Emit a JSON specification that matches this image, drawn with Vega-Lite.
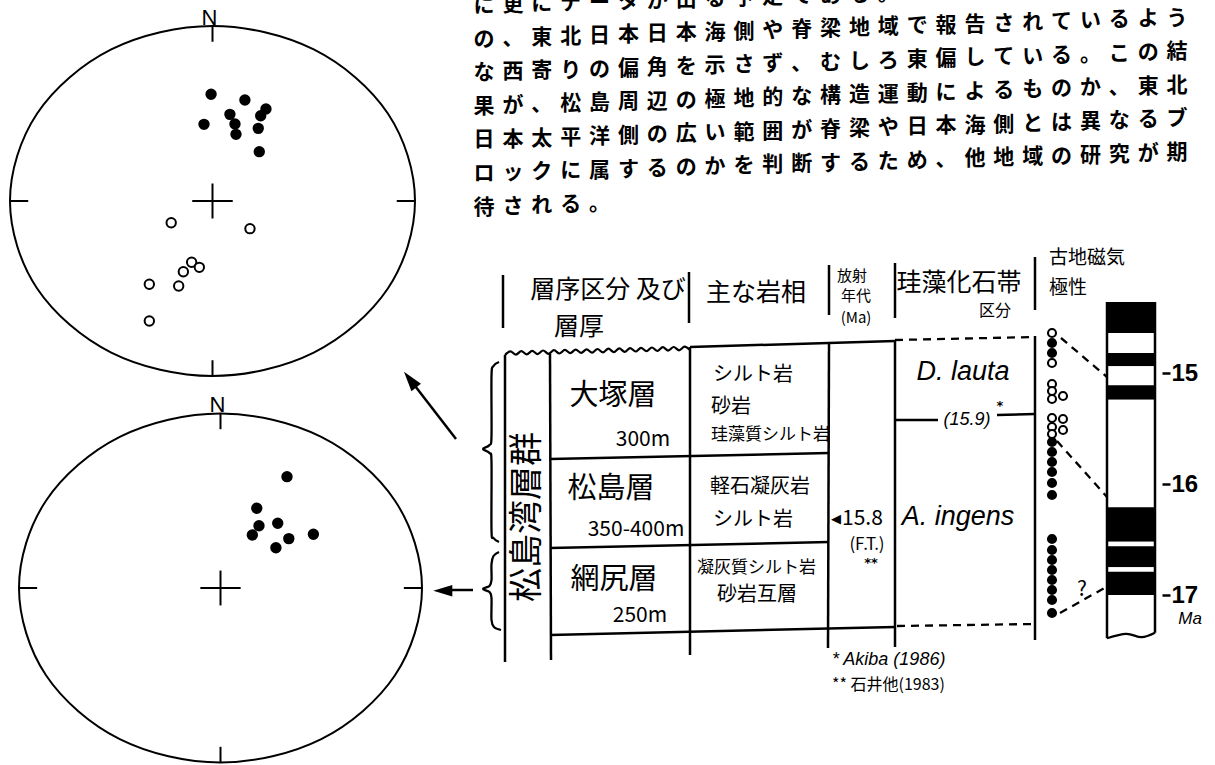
{
"$schema": "https://vega.github.io/schema/vega-lite/v6.json",
"width": 1215,
"height": 765,
"autosize": {"type": "none"},
"padding": 0,
"background": "white",
"config": {"view": {"stroke": null}},
"datasets": {
"circle": [
{"i":0,"x":1,"y":0},{"i":1,"x":0.866,"y":0.5},{"i":2,"x":0.5,"y":0.866},{"i":3,"x":0,"y":1},{"i":4,"x":-0.5,"y":0.866},{"i":5,"x":-0.866,"y":0.5},{"i":6,"x":-1,"y":0},{"i":7,"x":-0.866,"y":-0.5},{"i":8,"x":-0.5,"y":-0.866},{"i":9,"x":0,"y":-1},{"i":10,"x":0.5,"y":-0.866},{"i":11,"x":0.866,"y":-0.5}
],
"netFrame": [
{"x":0,"y":1,"x2":0,"y2":0.91},{"x":0,"y":-1,"x2":0,"y2":-0.91},{"x":-1,"y":0,"x2":-0.91,"y2":0},{"x":1,"y":0,"x2":0.91,"y2":0},{"x":-0.1,"y":0,"x2":0.1,"y2":0},{"x":0,"y":-0.1,"x2":0,"y2":0.1}
],
"north": [{"x":0,"y":1,"t":"N"}],
"siteA": [
{"x":-0.007,"y":0.610,"pol":"N"},{"x":0.160,"y":0.577,"pol":"N"},{"x":0.264,"y":0.526,"pol":"N"},{"x":0.086,"y":0.495,"pol":"N"},{"x":0.238,"y":0.487,"pol":"N"},{"x":-0.042,"y":0.438,"pol":"N"},{"x":0.111,"y":0.440,"pol":"N"},{"x":0.226,"y":0.415,"pol":"N"},{"x":0.116,"y":0.381,"pol":"N"},{"x":0.231,"y":0.282,"pol":"N"},
{"x":-0.204,"y":-0.124,"pol":"R"},{"x":0.185,"y":-0.158,"pol":"R"},{"x":-0.103,"y":-0.350,"pol":"R"},{"x":-0.065,"y":-0.379,"pol":"R"},{"x":-0.144,"y":-0.404,"pol":"R"},{"x":-0.312,"y":-0.476,"pol":"R"},{"x":-0.167,"y":-0.486,"pol":"R"},{"x":-0.312,"y":-0.686,"pol":"R"}
],
"siteB": [
{"x":0.330,"y":0.638,"pol":"N"},{"x":0.180,"y":0.457,"pol":"N"},{"x":0.191,"y":0.357,"pol":"N"},{"x":0.284,"y":0.371,"pol":"N"},{"x":0.158,"y":0.304,"pol":"N"},{"x":0.339,"y":0.283,"pol":"N"},{"x":0.461,"y":0.308,"pol":"N"},{"x":0.275,"y":0.231,"pol":"N"}
],
"para": [
{"l":1,"c":1,"t":"に"},{"l":1,"c":2,"t":"更"},{"l":1,"c":3,"t":"に"},{"l":1,"c":4,"t":"デ"},{"l":1,"c":5,"t":"ー"},{"l":1,"c":6,"t":"タ"},{"l":1,"c":7,"t":"が"},{"l":1,"c":8,"t":"出"},{"l":1,"c":9,"t":"る"},{"l":1,"c":10,"t":"予"},{"l":1,"c":11,"t":"定"},{"l":1,"c":12,"t":"で"},{"l":1,"c":13,"t":"あ"},{"l":1,"c":14,"t":"る"},{"l":1,"c":15,"t":"。"},
{"l":2,"c":1,"t":"の"},{"l":2,"c":2,"t":"、"},{"l":2,"c":3,"t":"東"},{"l":2,"c":4,"t":"北"},{"l":2,"c":5,"t":"日"},{"l":2,"c":6,"t":"本"},{"l":2,"c":7,"t":"日"},{"l":2,"c":8,"t":"本"},{"l":2,"c":9,"t":"海"},{"l":2,"c":10,"t":"側"},{"l":2,"c":11,"t":"や"},{"l":2,"c":12,"t":"脊"},{"l":2,"c":13,"t":"梁"},{"l":2,"c":14,"t":"地"},{"l":2,"c":15,"t":"域"},{"l":2,"c":16,"t":"で"},{"l":2,"c":17,"t":"報"},{"l":2,"c":18,"t":"告"},{"l":2,"c":19,"t":"さ"},{"l":2,"c":20,"t":"れ"},{"l":2,"c":21,"t":"て"},{"l":2,"c":22,"t":"い"},{"l":2,"c":23,"t":"る"},{"l":2,"c":24,"t":"よ"},{"l":2,"c":25,"t":"う"},
{"l":3,"c":1,"t":"な"},{"l":3,"c":2,"t":"西"},{"l":3,"c":3,"t":"寄"},{"l":3,"c":4,"t":"り"},{"l":3,"c":5,"t":"の"},{"l":3,"c":6,"t":"偏"},{"l":3,"c":7,"t":"角"},{"l":3,"c":8,"t":"を"},{"l":3,"c":9,"t":"示"},{"l":3,"c":10,"t":"さ"},{"l":3,"c":11,"t":"ず"},{"l":3,"c":12,"t":"、"},{"l":3,"c":13,"t":"む"},{"l":3,"c":14,"t":"し"},{"l":3,"c":15,"t":"ろ"},{"l":3,"c":16,"t":"東"},{"l":3,"c":17,"t":"偏"},{"l":3,"c":18,"t":"し"},{"l":3,"c":19,"t":"て"},{"l":3,"c":20,"t":"い"},{"l":3,"c":21,"t":"る"},{"l":3,"c":22,"t":"。"},{"l":3,"c":23,"t":"こ"},{"l":3,"c":24,"t":"の"},{"l":3,"c":25,"t":"結"},
{"l":4,"c":1,"t":"果"},{"l":4,"c":2,"t":"が"},{"l":4,"c":3,"t":"、"},{"l":4,"c":4,"t":"松"},{"l":4,"c":5,"t":"島"},{"l":4,"c":6,"t":"周"},{"l":4,"c":7,"t":"辺"},{"l":4,"c":8,"t":"の"},{"l":4,"c":9,"t":"極"},{"l":4,"c":10,"t":"地"},{"l":4,"c":11,"t":"的"},{"l":4,"c":12,"t":"な"},{"l":4,"c":13,"t":"構"},{"l":4,"c":14,"t":"造"},{"l":4,"c":15,"t":"運"},{"l":4,"c":16,"t":"動"},{"l":4,"c":17,"t":"に"},{"l":4,"c":18,"t":"よ"},{"l":4,"c":19,"t":"る"},{"l":4,"c":20,"t":"も"},{"l":4,"c":21,"t":"の"},{"l":4,"c":22,"t":"か"},{"l":4,"c":23,"t":"、"},{"l":4,"c":24,"t":"東"},{"l":4,"c":25,"t":"北"},
{"l":5,"c":1,"t":"日"},{"l":5,"c":2,"t":"本"},{"l":5,"c":3,"t":"太"},{"l":5,"c":4,"t":"平"},{"l":5,"c":5,"t":"洋"},{"l":5,"c":6,"t":"側"},{"l":5,"c":7,"t":"の"},{"l":5,"c":8,"t":"広"},{"l":5,"c":9,"t":"い"},{"l":5,"c":10,"t":"範"},{"l":5,"c":11,"t":"囲"},{"l":5,"c":12,"t":"が"},{"l":5,"c":13,"t":"脊"},{"l":5,"c":14,"t":"梁"},{"l":5,"c":15,"t":"や"},{"l":5,"c":16,"t":"日"},{"l":5,"c":17,"t":"本"},{"l":5,"c":18,"t":"海"},{"l":5,"c":19,"t":"側"},{"l":5,"c":20,"t":"と"},{"l":5,"c":21,"t":"は"},{"l":5,"c":22,"t":"異"},{"l":5,"c":23,"t":"な"},{"l":5,"c":24,"t":"る"},{"l":5,"c":25,"t":"ブ"},
{"l":6,"c":1,"t":"ロ"},{"l":6,"c":2,"t":"ッ"},{"l":6,"c":3,"t":"ク"},{"l":6,"c":4,"t":"に"},{"l":6,"c":5,"t":"属"},{"l":6,"c":6,"t":"す"},{"l":6,"c":7,"t":"る"},{"l":6,"c":8,"t":"の"},{"l":6,"c":9,"t":"か"},{"l":6,"c":10,"t":"を"},{"l":6,"c":11,"t":"判"},{"l":6,"c":12,"t":"断"},{"l":6,"c":13,"t":"す"},{"l":6,"c":14,"t":"る"},{"l":6,"c":15,"t":"た"},{"l":6,"c":16,"t":"め"},{"l":6,"c":17,"t":"、"},{"l":6,"c":18,"t":"他"},{"l":6,"c":19,"t":"地"},{"l":6,"c":20,"t":"域"},{"l":6,"c":21,"t":"の"},{"l":6,"c":22,"t":"研"},{"l":6,"c":23,"t":"究"},{"l":6,"c":24,"t":"が"},{"l":6,"c":25,"t":"期"},
{"l":7,"c":1,"t":"待"},{"l":7,"c":2,"t":"さ"},{"l":7,"c":3,"t":"れ"},{"l":7,"c":4,"t":"る"},{"l":7,"c":5,"t":"。"}
],
"tSolid": [
{"x":-0.2,"y":-6.5,"x2":-0.2,"y2":-1.2},
{"x":18.4,"y":-6.8,"x2":18.4,"y2":-1.7},
{"x":32.4,"y":-7.5,"x2":32.4,"y2":-2.5},
{"x":39.0,"y":-7.7,"x2":39.0,"y2":-2.2},
{"x":53.0,"y":-8.3,"x2":53.0,"y2":-3.0},
{"x":0,"y":1.5,"x2":0,"y2":32.2},
{"x":4.5,"y":1.35,"x2":4.6,"y2":32.0},
{"x":18.5,"y":0.7,"x2":18.5,"y2":31.5},
{"x":32.4,"y":0.3,"x2":32.3,"y2":30.8},
{"x":39.0,"y":0.1,"x2":39.0,"y2":30.7},
{"x":53.0,"y":-0.4,"x2":53.0,"y2":30.0},
{"x":18.5,"y":0.7,"x2":39.0,"y2":0.1},
{"x":4.5,"y":11.9,"x2":32.4,"y2":11.3},
{"x":4.5,"y":20.8,"x2":32.4,"y2":20.2},
{"x":4.5,"y":29.5,"x2":39.0,"y2":28.7},
{"x":39.0,"y":8.0,"x2":43.3,"y2":8.0},
{"x":49.2,"y":7.5,"x2":53.0,"y2":7.4}
],
"tDash": [
{"x":39.0,"y":0.0,"x2":53.0,"y2":-0.3},
{"x":39.2,"y":28.6,"x2":53.0,"y2":28.4},
{"x":55.6,"y":-0.2,"x2":60.2,"y2":3.7},
{"x":55.2,"y":10.1,"x2":60.2,"y2":15.7},
{"x":55.5,"y":27.3,"x2":60.3,"y2":24.6}
],
"tWave": [
{"x":0,"y":1.5},{"x":0.54,"y":1.14},{"x":1.09,"y":1.47},{"x":1.63,"y":1.11},{"x":2.18,"y":1.44},{"x":2.72,"y":1.08},{"x":3.26,"y":1.41},{"x":3.81,"y":1.05},{"x":4.35,"y":1.38},{"x":4.9,"y":1.02},{"x":5.44,"y":1.35},{"x":5.99,"y":0.99},{"x":6.53,"y":1.32},{"x":7.07,"y":0.96},{"x":7.62,"y":1.29},{"x":8.16,"y":0.93},{"x":8.71,"y":1.27},{"x":9.25,"y":0.9},{"x":9.79,"y":1.24},{"x":10.34,"y":0.87},{"x":10.88,"y":1.21},{"x":11.43,"y":0.84},{"x":11.97,"y":1.18},{"x":12.51,"y":0.81},{"x":13.06,"y":1.15},{"x":13.6,"y":0.78},{"x":14.15,"y":1.12},{"x":14.69,"y":0.75},{"x":15.24,"y":1.09},{"x":15.78,"y":0.72},{"x":16.32,"y":1.06},{"x":16.87,"y":0.7},{"x":17.41,"y":1.03},{"x":17.96,"y":0.67},{"x":18.5,"y":1.0}
],
"tBrace": [
{"b":"u","i":0,"x":-0.6,"y":2.2},{"b":"u","i":1,"x":-1.15,"y":2.6},{"b":"u","i":2,"x":-1.35,"y":3.6},{"b":"u","i":3,"x":-1.35,"y":9.6},{"b":"u","i":4,"x":-1.55,"y":10.5},{"b":"u","i":5,"x":-2.2,"y":10.9},{"b":"u","i":6,"x":-1.55,"y":11.3},{"b":"u","i":7,"x":-1.35,"y":12.2},{"b":"u","i":8,"x":-1.35,"y":19.0},{"b":"u","i":9,"x":-1.15,"y":19.8},{"b":"u","i":10,"x":-0.6,"y":20.2},
{"b":"l","i":0,"x":-0.6,"y":21.2},{"b":"l","i":1,"x":-1.15,"y":21.6},{"b":"l","i":2,"x":-1.35,"y":22.4},{"b":"l","i":3,"x":-1.35,"y":24.0},{"b":"l","i":4,"x":-1.55,"y":24.6},{"b":"l","i":5,"x":-2.2,"y":24.9},{"b":"l","i":6,"x":-1.55,"y":25.2},{"b":"l","i":7,"x":-1.35,"y":25.8},{"b":"l","i":8,"x":-1.35,"y":28.0},{"b":"l","i":9,"x":-1.1,"y":28.7},{"b":"l","i":10,"x":-0.4,"y":29.0}
],
"tArrow": [
{"x":-4.9,"y":9.9,"x2":-9.3,"y2":4.2},
{"x":-3.2,"y":25.0,"x2":-6.0,"y2":25.0}
],
"tHead": [
{"a":"up","x":-9.49,"y":3.96},
{"a":"left","x":-6.22,"y":25.07}
],
"tSample": [
{"x":54.7,"y":-0.7,"pol":"R"},{"x":54.7,"y":0.3,"pol":"N"},{"x":54.7,"y":1.3,"pol":"N"},{"x":54.7,"y":2.3,"pol":"R"},
{"x":54.7,"y":4.4,"pol":"R"},{"x":54.7,"y":5.1,"pol":"R"},{"x":55.8,"y":5.6,"pol":"R"},{"x":54.7,"y":5.9,"pol":"R"},
{"x":54.7,"y":7.8,"pol":"R"},{"x":55.8,"y":7.9,"pol":"R"},{"x":54.7,"y":8.7,"pol":"R"},{"x":55.8,"y":9.0,"pol":"R"},{"x":54.7,"y":9.4,"pol":"R"},
{"x":54.7,"y":10.2,"pol":"N"},{"x":54.7,"y":11.2,"pol":"N"},{"x":54.7,"y":12.2,"pol":"N"},{"x":54.7,"y":13.2,"pol":"N"},{"x":54.7,"y":14.3,"pol":"N"},{"x":54.7,"y":15.5,"pol":"N"},
{"x":54.7,"y":19.9,"pol":"N"},{"x":54.7,"y":21.0,"pol":"N"},{"x":54.7,"y":22.0,"pol":"N"},{"x":54.7,"y":23.0,"pol":"N"},{"x":54.7,"y":24.0,"pol":"N"},{"x":54.7,"y":25.0,"pol":"N"},{"x":54.7,"y":26.0,"pol":"N"},{"x":54.7,"y":27.3,"pol":"N"}
],
"tText": [
{"t":"層序区分 及び","x":10.3,"y":-5.0,"k":"head"},
{"t":"層厚","x":7.4,"y":-1.3,"k":"head"},
{"t":"主な岩相","x":25.1,"y":-4.7,"k":"head"},
{"t":"珪藻化石帯","x":45.4,"y":-5.7,"k":"head"},
{"t":"放射","x":34.7,"y":-6.4,"k":"headS"},
{"t":"年代","x":35.1,"y":-4.4,"k":"headS"},
{"t":"(Ma)","x":35.1,"y":-2.2,"k":"headS"},
{"t":"区分","x":49.0,"y":-2.9,"k":"headS2"},
{"t":"古地磁気","x":58.2,"y":-8.2,"k":"headM"},
{"t":"極性","x":56.3,"y":-5.2,"k":"headM"},
{"t":"大塚層","x":10.8,"y":5.6,"k":"unit"},
{"t":"松島層","x":10.6,"y":14.9,"k":"unit"},
{"t":"網尻層","x":10.9,"y":24.0,"k":"unit"},
{"t":"300m","x":13.8,"y":10.0,"k":"thick"},
{"t":"350-400m","x":13.1,"y":19.0,"k":"thick"},
{"t":"250m","x":13.5,"y":27.6,"k":"thick"},
{"t":"?","x":57.7,"y":25.0,"k":"thick"},
{"t":"(F.T.)","x":36.2,"y":20.5,"k":"ref"},
{"t":"◀","x":33.1,"y":17.9,"k":"sym"},
{"t":"**","x":36.6,"y":22.3,"k":"sym"},
{"t":"*","x":49.5,"y":6.6,"k":"sym"},
{"t":"シルト岩","x":20.8,"y":3.5,"k":"lith"},
{"t":"砂岩","x":20.6,"y":6.7,"k":"lith"},
{"t":"軽石凝灰岩","x":20.5,"y":14.7,"k":"lith"},
{"t":"シルト岩","x":20.8,"y":18.0,"k":"lith"},
{"t":"砂岩互層","x":21.2,"y":25.5,"k":"lith"},
{"t":"珪藻質シルト岩","x":20.6,"y":9.5,"k":"lithS"},
{"t":"凝灰質シルト岩","x":19.2,"y":22.8,"k":"lithS"},
{"t":"** 石井他(1983)","x":32.7,"y":34.5,"k":"foot"},
{"t":"15.8","x":33.7,"y":17.9,"k":"age"},
{"t":"D. lauta","x":45.8,"y":3.2,"k":"zone"},
{"t":"A. ingens","x":45.3,"y":17.7,"k":"zone"},
{"t":"(15.9)","x":46.2,"y":8.0,"k":"date"},
{"t":"* Akiba (1986)","x":32.7,"y":32.0,"k":"note"},
{"t":"松島湾層群","x":2.3,"y":17.7,"k":"group"}
],
"chrons": [
{"x":0,"x2":1,"y":14.36,"y2":14.64,"pol":"N"},
{"x":0,"x2":1,"y":14.64,"y2":14.82,"pol":"R"},
{"x":0,"x2":1,"y":14.82,"y2":14.94,"pol":"N"},
{"x":0,"x2":1,"y":14.94,"y2":15.11,"pol":"R"},
{"x":0,"x2":1,"y":15.11,"y2":15.24,"pol":"N"},
{"x":0,"x2":1,"y":15.24,"y2":16.21,"pol":"R"},
{"x":0,"x2":1,"y":16.21,"y2":16.52,"pol":"N"},
{"x":0,"x2":1,"y":16.52,"y2":16.56,"pol":"R"},
{"x":0,"x2":1,"y":16.56,"y2":16.75,"pol":"N"},
{"x":0,"x2":1,"y":16.75,"y2":16.79,"pol":"R"},
{"x":0,"x2":1,"y":16.79,"y2":17.0,"pol":"N"},
{"x":0,"x2":1,"y":17.0,"y2":17.35,"pol":"R"}
],
"pEdge": [{"x":0,"y":14.36,"y2":17.39},{"x":1,"y":14.36,"y2":17.34}],
"pBottom": [{"i":0,"x":0,"y":17.39},{"i":1,"x":0.4,"y":17.35},{"i":2,"x":0.72,"y":17.38},{"i":3,"x":1,"y":17.34}],
"pLabel": [{"x":1.73,"y":17.22,"t":"Ma"}]
},
"layer": [
{
"encoding": {
"x": {"field":"x","type":"quantitative","scale":{"domain":[-1.04938,4.95062],"nice":false,"zero":false},"axis":null},
"y": {"field":"y","type":"quantitative","scale":{"domain":[-3.22286,1.14857],"nice":false,"zero":false},"axis":null}
},
"layer": [
{"data":{"name":"circle"},"mark":{"type":"line","interpolate":"cardinal-closed","color":"black","strokeWidth":2},"encoding":{"order":{"field":"i","type":"quantitative"}}},
{"data":{"name":"netFrame"},"mark":{"type":"rule","color":"black","strokeWidth":2},"encoding":{"x2":{"field":"x2"},"y2":{"field":"y2"}}},
{"data":{"name":"north"},"mark":{"type":"text","font":"Liberation Sans","fontSize":22,"align":"center","baseline":"alphabetic","dx":-3,"dy":-1,"color":"black"},"encoding":{"text":{"field":"t"}}},
{"data":{"name":"siteA"},"mark":{"type":"point","shape":"circle","filled":true,"size":88,"stroke":"black","strokeWidth":2,"opacity":1},"encoding":{"fill":{"field":"pol","type":"nominal","scale":{"domain":["N","R"],"range":["black","white"]},"legend":null}}}
]
},
{
"encoding": {
"x": {"field":"x","type":"quantitative","scale":{"domain":[-1.09429,4.93548],"nice":false,"zero":false},"axis":null},
"y": {"field":"y","type":"quantitative","scale":{"domain":[-1.01433,3.36963],"nice":false,"zero":false},"axis":null}
},
"layer": [
{"data":{"name":"circle"},"mark":{"type":"line","interpolate":"cardinal-closed","color":"black","strokeWidth":2},"encoding":{"order":{"field":"i","type":"quantitative"}}},
{"data":{"name":"netFrame"},"mark":{"type":"rule","color":"black","strokeWidth":2},"encoding":{"x2":{"field":"x2"},"y2":{"field":"y2"}}},
{"data":{"name":"north"},"mark":{"type":"text","font":"Liberation Sans","fontSize":22,"align":"center","baseline":"alphabetic","dx":-3,"dy":-1,"color":"black"},"encoding":{"text":{"field":"t"}}},
{"data":{"name":"siteB"},"mark":{"type":"point","shape":"circle","filled":true,"size":88,"stroke":"black","strokeWidth":2,"opacity":1},"encoding":{"fill":{"field":"pol","type":"nominal","scale":{"domain":["N","R"],"range":["black","white"]},"legend":null}}}
]
},
{
"data": {"name":"para"},
"mark": {"type":"text","font":"Noto Sans CJK JP","fontWeight":"bold","fontSize":21,"align":"center","baseline":"middle","color":"black"},
"encoding": {
"x": {"field":"c","type":"quantitative","scale":{"domain":[-15.762,26.316],"nice":false,"zero":false},"axis":null},
"y": {"field":"l","type":"ordinal","scale":{"type":"point","domain":[1,2,3,4,5,6,7],"range":[6,207.6],"padding":0},"axis":null},
"yOffset": {"field":"c","type":"quantitative","scale":{"domain":[1,25],"range":[0,-21]}},
"text": {"field":"t"}
}
},
{
"encoding": {
"x": {"field":"x","type":"quantitative","scale":{"domain":[-50.5,71],"nice":false,"zero":false},"axis":null},
"y": {"field":"y","type":"quantitative","scale":{"domain":[-34,42.5],"reverse":true,"nice":false,"zero":false},"axis":null}
},
"layer": [
{"data":{"name":"tSolid"},"mark":{"type":"rule","color":"black","strokeWidth":2.5},"encoding":{"x2":{"field":"x2"},"y2":{"field":"y2"}}},
{"data":{"name":"tDash"},"mark":{"type":"rule","color":"black","strokeWidth":2.3,"strokeDash":[8,6]},"encoding":{"x2":{"field":"x2"},"y2":{"field":"y2"}}},
{"data":{"name":"tWave"},"mark":{"type":"line","interpolate":"monotone","color":"black","strokeWidth":2.2},"encoding":{}},
{"data":{"name":"tBrace"},"mark":{"type":"line","interpolate":"cardinal","color":"black","strokeWidth":2.3},"encoding":{"order":{"field":"i","type":"quantitative"},"detail":{"field":"b"}}},
{"data":{"name":"tArrow"},"mark":{"type":"rule","color":"black","strokeWidth":2.5},"encoding":{"x2":{"field":"x2"},"y2":{"field":"y2"}}},
{"data":{"name":"tHead"},"transform":[{"filter":{"field":"a","equal":"up"}}],"mark":{"type":"point","shape":"M0,-1L0.6,1L-0.6,1Z","filled":true,"color":"black","opacity":1,"size":400,"angle":322.4}},
{"data":{"name":"tHead"},"transform":[{"filter":{"field":"a","equal":"left"}}],"mark":{"type":"point","shape":"M0,-1L0.6,1L-0.6,1Z","filled":true,"color":"black","opacity":1,"size":361,"angle":270}},
{"data":{"name":"tSample"},"mark":{"type":"point","shape":"circle","filled":true,"size":64,"stroke":"black","strokeWidth":2.1,"opacity":1},"encoding":{"fill":{"field":"pol","type":"nominal","scale":{"domain":["N","R"],"range":["black","white"]},"legend":null}}},
{"data":{"name":"tText"},"transform":[{"filter":{"field":"k","equal":"head"}}],"mark":{"type":"text","font":"Noto Sans CJK JP","fontSize":25,"align":"center","baseline":"middle","color":"black"},"encoding":{"text":{"field":"t"}}},
{"data":{"name":"tText"},"transform":[{"filter":{"field":"k","equal":"headS"}}],"mark":{"type":"text","font":"Noto Sans CJK JP","fontSize":15,"align":"center","baseline":"middle","color":"black"},"encoding":{"text":{"field":"t"}}},
{"data":{"name":"tText"},"transform":[{"filter":{"field":"k","equal":"headS2"}}],"mark":{"type":"text","font":"Noto Sans CJK JP","fontSize":16,"align":"center","baseline":"middle","color":"black"},"encoding":{"text":{"field":"t"}}},
{"data":{"name":"tText"},"transform":[{"filter":{"field":"k","equal":"headM"}}],"mark":{"type":"text","font":"Noto Sans CJK JP","fontSize":19,"align":"center","baseline":"middle","color":"black"},"encoding":{"text":{"field":"t"}}},
{"data":{"name":"tText"},"transform":[{"filter":{"field":"k","equal":"unit"}}],"mark":{"type":"text","font":"Noto Sans CJK JP","fontSize":29,"align":"center","baseline":"middle","color":"black"},"encoding":{"text":{"field":"t"}}},
{"data":{"name":"tText"},"transform":[{"filter":{"field":"k","equal":"thick"}}],"mark":{"type":"text","font":"Noto Sans CJK JP","fontSize":21,"align":"center","baseline":"middle","color":"black"},"encoding":{"text":{"field":"t"}}},
{"data":{"name":"tText"},"transform":[{"filter":{"field":"k","equal":"ref"}}],"mark":{"type":"text","font":"Noto Sans CJK JP","fontSize":17,"align":"center","baseline":"middle","color":"black"},"encoding":{"text":{"field":"t"}}},
{"data":{"name":"tText"},"transform":[{"filter":{"field":"k","equal":"sym"}}],"mark":{"type":"text","font":"DejaVu Sans","fontSize":13,"fontWeight":"bold","align":"center","baseline":"middle","color":"black"},"encoding":{"text":{"field":"t"}}},
{"data":{"name":"tText"},"transform":[{"filter":{"field":"k","equal":"lith"}}],"mark":{"type":"text","font":"Noto Sans CJK JP","fontSize":20,"align":"left","baseline":"middle","color":"black"},"encoding":{"text":{"field":"t"}}},
{"data":{"name":"tText"},"transform":[{"filter":{"field":"k","equal":"lithS"}}],"mark":{"type":"text","font":"Noto Sans CJK JP","fontSize":17,"align":"left","baseline":"middle","color":"black"},"encoding":{"text":{"field":"t"}}},
{"data":{"name":"tText"},"transform":[{"filter":{"field":"k","equal":"foot"}}],"mark":{"type":"text","font":"Noto Sans CJK JP","fontSize":16,"align":"left","baseline":"middle","color":"black"},"encoding":{"text":{"field":"t"}}},
{"data":{"name":"tText"},"transform":[{"filter":{"field":"k","equal":"age"}}],"mark":{"type":"text","font":"Noto Sans CJK JP","fontSize":21,"align":"left","baseline":"middle","color":"black"},"encoding":{"text":{"field":"t"}}},
{"data":{"name":"tText"},"transform":[{"filter":{"field":"k","equal":"zone"}}],"mark":{"type":"text","font":"Liberation Sans","fontStyle":"italic","fontSize":27,"align":"center","baseline":"middle","color":"black"},"encoding":{"text":{"field":"t"}}},
{"data":{"name":"tText"},"transform":[{"filter":{"field":"k","equal":"date"}}],"mark":{"type":"text","font":"Liberation Sans","fontStyle":"italic","fontSize":18,"align":"center","baseline":"middle","color":"black"},"encoding":{"text":{"field":"t"}}},
{"data":{"name":"tText"},"transform":[{"filter":{"field":"k","equal":"note"}}],"mark":{"type":"text","font":"Liberation Sans","fontStyle":"italic","fontSize":18,"align":"left","baseline":"middle","color":"black"},"encoding":{"text":{"field":"t"}}},
{"data":{"name":"tText"},"transform":[{"filter":{"field":"k","equal":"group"}}],"mark":{"type":"text","font":"Noto Sans CJK JP","fontSize":34,"angle":270,"align":"center","baseline":"middle","color":"black"},"encoding":{"text":{"field":"t"}}}
]
},
{
"encoding": {
"x": {"field":"x","type":"quantitative","scale":{"domain":[-23.0625,2.25],"nice":false,"zero":false},"axis":null},
"y": {"field":"y","type":"quantitative","scale":{"domain":[11.63964,18.53153],"reverse":true,"nice":false,"zero":false},"axis":{"orient":"right","offset":-53,"values":[15,16,17],"domain":false,"grid":false,"ticks":true,"tickSize":8,"tickWidth":2.5,"tickColor":"black","labelFont":"Liberation Sans","labelFontSize":24,"labelFontWeight":"bold","labelColor":"black","labelPadding":1,"labelAlign":"left","labelBaseline":"middle","title":null}}
},
"layer": [
{"data":{"name":"chrons"},"mark":{"type":"rect"},"encoding":{"x2":{"field":"x2"},"y2":{"field":"y2"},"fill":{"field":"pol","type":"nominal","scale":{"domain":["N","R"],"range":["black","white"]},"legend":null}}},
{"data":{"name":"pEdge"},"mark":{"type":"rule","color":"black","strokeWidth":2.5},"encoding":{"y2":{"field":"y2"}}},
{"data":{"name":"pBottom"},"mark":{"type":"line","interpolate":"cardinal","color":"black","strokeWidth":2.2},"encoding":{"order":{"field":"i","type":"quantitative"}}},
{"data":{"name":"pLabel"},"mark":{"type":"text","font":"Liberation Sans","fontStyle":"italic","fontSize":17,"align":"center","baseline":"middle","color":"black"},"encoding":{"text":{"field":"t"}}}
]
}
],
"resolve": {"scale": {"x": "independent", "y": "independent"}}
}
